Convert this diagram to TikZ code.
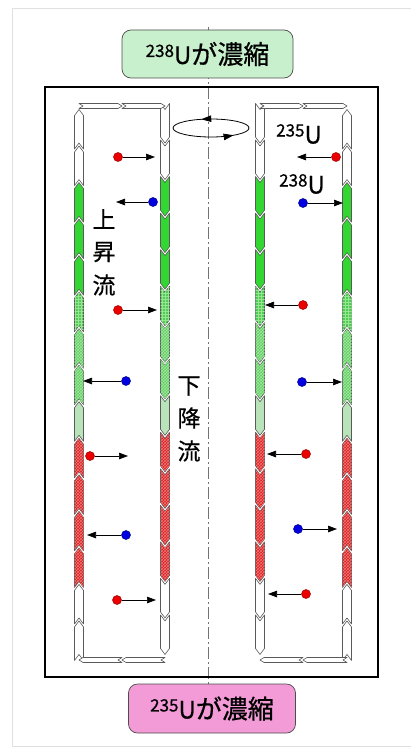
\documentclass[tikz,border=0pt]{standalone}
\usepackage{fontspec}
\setmainfont{Noto Sans CJK JP}[FakeBold=0.6]
\usetikzlibrary{arrows.meta,patterns,decorations.markings}

\definecolor{segedge}{RGB}{90,90,90}
\definecolor{gsolid}{RGB}{50,215,50}
\definecolor{ggrid}{RGB}{80,205,80}
\definecolor{ggridl}{RGB}{150,230,150}
\definecolor{gcheck}{RGB}{95,205,95}
\definecolor{gcheckl}{RGB}{160,232,160}
\definecolor{gpale}{RGB}{185,228,185}
\definecolor{rfill}{RGB}{220,30,30}
\definecolor{rhatch}{RGB}{240,120,120}
\definecolor{boxgreen}{RGB}{200,240,205}
\definecolor{boxpink}{RGB}{242,155,215}
\definecolor{dotred}{RGB}{235,0,0}
\definecolor{dotblue}{RGB}{0,0,225}

\tikzset{
  segbase/.style={draw=segedge, line width=0.6pt, line join=round},
  sw/.style={segbase, fill=white},
  sg/.style={segbase, fill=gsolid},
  sgrid/.style={segbase, fill=ggrid, postaction={pattern=grid, pattern color=ggridl}},
  schk/.style={segbase, fill=gcheck, postaction={pattern=crosshatch, pattern color=gcheckl}},
  spale/.style={segbase, fill=gpale},
  sred/.style={segbase, fill=rfill, postaction={pattern=crosshatch, pattern color=rhatch}},
  flowlabel/.style={font=\fontsize{23}{23}\selectfont, inner sep=0pt},
  isolabel/.style={font=\fontsize{24}{24}\selectfont, inner sep=0pt},
  endbox/.style={rounded corners=9pt, draw=black!70, line width=0.7pt,
    minimum height=48pt, inner sep=0pt},
  particle/.style={circle, inner sep=0pt, minimum size=9pt, line width=0.5pt},
  pr/.style={particle, fill=dotred, draw=red!60!black},
  pb/.style={particle, fill=dotblue, draw=blue!50!black},
  drift/.style={line width=0.7pt, -{Triangle[length=9pt,width=6.5pt]}},
}

% one vertical chain element: #1 centre x, #2 index, #3 +1 up / -1 down, #4 style
\newcommand{\chainseg}[4]{%
  \pgfmathsetmacro{\bt}{108+#2*36.53}%
  \pgfmathsetmacro{\bb}{108+(#2+1)*36.53}%
  \ifnum#3>0
    \path[#4] (#1,\bt+1.5) -- (#1+4.5,\bt+7.5) -- (#1+4.5,\bb+4.5) -- (#1,\bb-1.5)
      -- (#1-4.5,\bb+4.5) -- (#1-4.5,\bt+7.5) -- cycle;
  \else
    \path[#4] (#1-4.5,\bt-4.5) -- (#1,\bt+1.5) -- (#1+4.5,\bt-4.5) -- (#1+4.5,\bb-7.5)
      -- (#1,\bb-1.5) -- (#1-4.5,\bb-7.5) -- cycle;
  \fi}

% one whole chain of 15 elements
\newcommand{\flowchain}[2]{%
  \foreach \i/\st in {0/sw,1/sw,2/sg,3/sg,4/sg,5/sgrid,6/schk,7/schk,8/spale,
                      9/sred,10/sred,11/sred,12/sred,13/sw,14/sw}{%
    \chainseg{#1}{\i}{#2}{\st}}}

% horizontal element: #1 from x, #2 to x, #3 centre y (points from #1 towards #2)
\newcommand{\hseg}[3]{%
  \pgfmathsetmacro{\dd}{ifthenelse(#2>#1,4,-4)}%
  \path[sw] (#1,#3-2.5) -- (#2-\dd,#3-2.5) -- (#2,#3) -- (#2-\dd,#3+2.5)
    -- (#1,#3+2.5) -- (#1+\dd,#3) -- cycle;}

\begin{document}
\begin{tikzpicture}[x=1pt,y=-1pt]
\useasboundingbox (0,0) rectangle (411,749);
\clip (0,0) rectangle (411,749);

% page panel
\draw[black!12, line width=0.8pt] (12,8) rectangle (430,746);

% rotation axis
\draw[black!55, line width=0.7pt, dash pattern=on 12pt off 3pt on 2pt off 3pt]
  (208,27) -- (208,686);

% end boxes
\node[endbox, fill=boxgreen, minimum width=171pt] (top) at (207.5,54)
  {\raisebox{7pt}{\fontsize{17}{17}\selectfont 238}\fontsize{24}{24}\selectfont U\fontsize{26}{26}\selectfont が濃縮};
\node[endbox, fill=boxpink, minimum width=167pt, minimum height=49pt] (bottom) at (212,708.5)
  {\raisebox{7pt}{\fontsize{17}{17}\selectfont 235}\fontsize{24}{24}\selectfont U\fontsize{26}{26}\selectfont が濃縮};

% rotor casing
\draw[line width=2pt] (45,87) rectangle (378,677);

% rotation sense
\draw[line width=0.8pt, postaction={decorate}, decoration={markings,
    mark=at position 0.11 with {\arrowreversed{Triangle[length=10pt,width=6.5pt]}},
    mark=at position 0.69 with {\arrowreversed{Triangle[length=10pt,width=6.5pt]}}}]
  (211,128) ellipse [x radius=38, y radius=9];

% left counter-current loop: up on the left, down on the right
\flowchain{79}{1}
\flowchain{165}{-1}
\hseg{79}{122}{106}
\hseg{122}{165}{106}
\hseg{165}{122}{660}
\hseg{122}{79}{660}

% right counter-current loop: down on the left, up on the right
\flowchain{260}{-1}
\flowchain{347}{1}
\hseg{260}{303}{106}
\hseg{303}{347}{106}
\hseg{347}{303}{660}
\hseg{303}{260}{660}

% flow labels
\node[flowlabel] (up1) at (104,219) {上};
\node[flowlabel] (up2) at (104,252) {昇};
\node[flowlabel] (up3) at (104,285) {流};
\node[flowlabel] (dn1) at (189,386) {下};
\node[flowlabel] (dn2) at (189,418) {降};
\node[flowlabel] (dn3) at (189,451) {流};

% isotope labels
\node[isolabel] (u235) at (299,134)
  {\raisebox{7pt}{\fontsize{17}{17}\selectfont 235}U};
\node[isolabel] (u238) at (302,184)
  {\raisebox{7pt}{\fontsize{17}{17}\selectfont 238}U};

% particles drifting between the streams
\foreach \n/\x/\y/\st/\tx in {a1/118/157/pr/155, a2/153/202/pb/116, a3/118/310/pr/157,
    a4/126/381/pb/83, a5/90/456/pr/128, a6/126/535/pb/87, a7/117/600/pr/156,
    b1/336/157/pr/297, b2/303/203/pb/343, b3/303/305/pr/265, b4/302/382/pb/342,
    b5/306/454/pr/267, b6/298/529/pb/337, b7/306/594/pr/268}{
  \node[\st] (\n) at (\x,\y) {};
  \coordinate (\n t) at (\tx,\y);
  \draw[drift] (\n) -- (\n t);
}
\end{tikzpicture}
\end{document}
